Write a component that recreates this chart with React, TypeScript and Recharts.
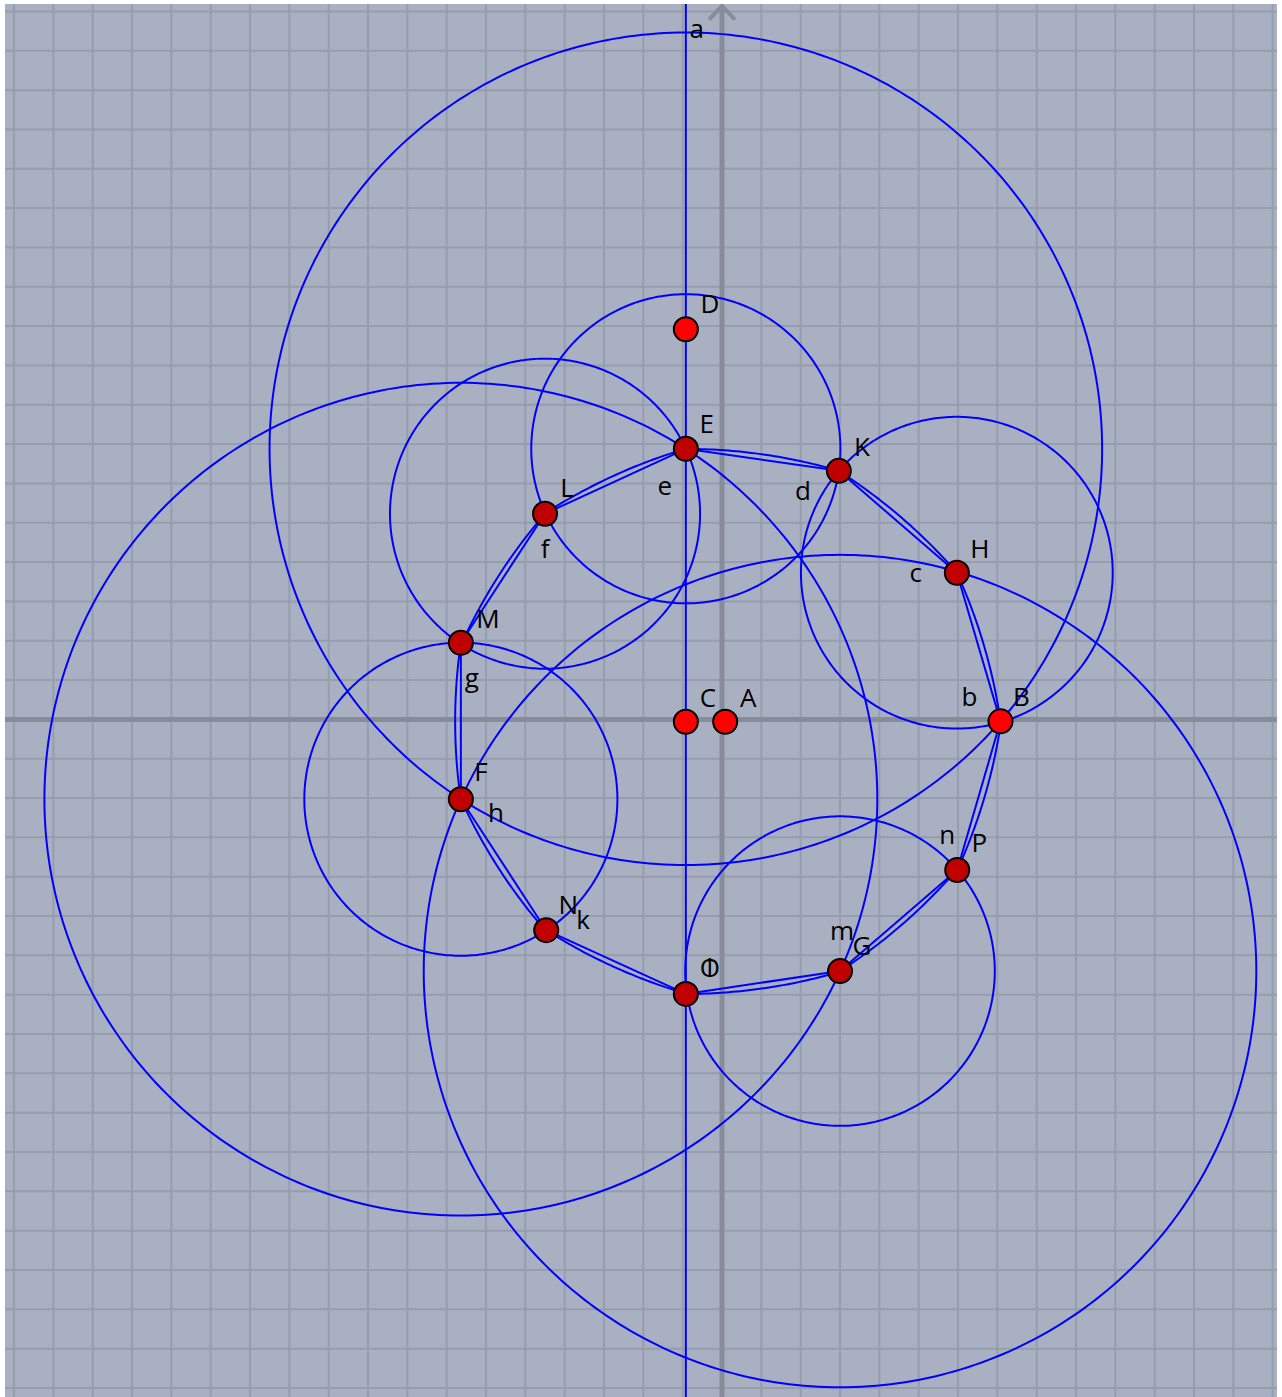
import React from 'react'
import { ScatterChart, Scatter, XAxis, YAxis, CartesianGrid } from 'recharts'

// Vertices of the polygon, in order round the centre (grid units)
const VERTEX_NAMES = ['B', 'H', 'K', 'E', 'L', 'M', 'F', 'N', 'O', 'G', 'P']
const VERTEX_X = [7.08, 5.97, 2.97, -0.92, -4.5, -6.64, -6.64, -4.47, -0.92, 3.0, 5.98]
const VERTEX_Y = [-0.05, 3.73, 6.32, 6.88, 5.23, 1.95, -2.03, -5.36, -6.98, -6.4, -3.83]

// Free points (bright red)
const FREE_NAMES = ['D', 'C', 'A']
const FREE_X = [-0.92, -0.92, 0.08]
const FREE_Y = [9.92, -0.06, -0.06]

// Circles: [centre, point on circle]
const CIRCLES: [string, string][] = [
  ['E', 'B'], ['F', 'E'], ['G', 'F'],
  ['E', 'K'], ['L', 'E'], ['H', 'K'], ['F', 'M'], ['G', 'P'],
]

// Vertical line "a" through C and D
const LINE_A_X = -0.92

// Labels: [text, anchor point]
const POINT_LABELS: [string, string][] = [
  ['D', 'D'], ['E', 'E'], ['K', 'K'], ['H', 'H'], ['B', 'B'], ['L', 'L'], ['M', 'M'],
  ['F', 'F'], ['N', 'N'], ['O', 'O'], ['G', 'G'], ['P', 'P'], ['C', 'C'], ['A', 'A'],
]
const SEGMENT_LABELS: [string, string][] = [
  ['b', 'B'], ['c', 'H'], ['d', 'K'], ['e', 'E'], ['f', 'L'], ['g', 'M'],
  ['h', 'F'], ['k', 'N'], ['l', 'O'], ['m', 'G'], ['n', 'P'],
]

// pixel offsets of labels from their anchor
const LABEL_OFFSET: Record<string, [number, number]> = {
  D: [24, -26], E: [21, -26], K: [23, -25], H: [23, -25], B: [21, -25],
  L: [22, -27], M: [27, -25], F: [20, -28], N: [22, -26], O: [24, -27],
  G: [22, -26], P: [22, -28], C: [22, -25], A: [23, -25],
  b: [-31, -25], c: [-41, -1], d: [-36, 19], e: [-21, 36], f: [0, 34],
  g: [11, 34], h: [35, 13], k: [37, -11], l: [24, -27], m: [2, -41], n: [-10, -36],
  a: [11, 24],
}

const X_MIN = -18.23
const X_MAX = 14.11
const Y_MIN = -17.23
const Y_MAX = 18.19

const BG = '#a9b0c1'
const GRID = '#969dad'
const AXIS = '#878c99'
const BLUE = '#0000ff'

type P = { x: number; y: number }

const pos: Record<string, P> = {}
VERTEX_NAMES.forEach((n, i) => (pos[n] = { x: VERTEX_X[i], y: VERTEX_Y[i] }))
FREE_NAMES.forEach((n, i) => (pos[n] = { x: FREE_X[i], y: FREE_Y[i] }))

function circlePoints(c: P, p: P, n = 360): P[] {
  const r = Math.hypot(p.x - c.x, p.y - c.y)
  const out: P[] = []
  for (let k = 0; k <= n; k++) {
    const t = (2 * Math.PI * k) / n
    out.push({ x: c.x + r * Math.cos(t), y: c.y + r * Math.sin(t) })
  }
  return out
}

function arcPoints(c: P, p0: P, p1: P, n = 40): P[] {
  const r = Math.hypot(p0.x - c.x, p0.y - c.y)
  const a0 = Math.atan2(p0.y - c.y, p0.x - c.x)
  let d = Math.atan2(p1.y - c.y, p1.x - c.x) - a0
  while (d > Math.PI) d -= 2 * Math.PI
  while (d < -Math.PI) d += 2 * Math.PI
  const out: P[] = []
  for (let k = 0; k <= n; k++) {
    const t = a0 + (d * k) / n
    out.push({ x: c.x + r * Math.cos(t), y: c.y + r * Math.sin(t) })
  }
  return out
}

const blank = () => <g />

function PointShape(props: any) {
  const { cx, cy, payload } = props
  return (
    <circle
      cx={cx}
      cy={cy}
      r={12}
      fill={payload.bright ? '#ff0000' : '#c00000'}
      stroke="#000"
      strokeWidth={2}
    />
  )
}

function LabelShape(props: any) {
  const { cx, cy, payload } = props
  const [dx, dy] = LABEL_OFFSET[payload.text] || [0, 0]
  return (
    <text
      x={cx + dx}
      y={cy + dy}
      textAnchor="middle"
      dominantBaseline="central"
      fontSize={26}
      fontFamily="'Open Sans', sans-serif"
      fill="#000"
    >
      {payload.text}
    </text>
  )
}

export default function App() {
  const gridX: number[] = []
  for (let v = Math.ceil(X_MIN); v <= Math.floor(X_MAX); v++) if (v !== 0) gridX.push(v)
  const gridY: number[] = []
  for (let v = Math.ceil(Y_MIN); v <= Math.floor(Y_MAX); v++) if (v !== 0) gridY.push(v)

  const n = VERTEX_NAMES.length
  const edges = VERTEX_NAMES.map((name, i) => [name, VERTEX_NAMES[(i + 1) % n], VERTEX_NAMES[(i + 6) % n]])

  const points = [
    ...VERTEX_NAMES.map((nm) => ({ ...pos[nm], bright: nm === 'B' })),
    ...FREE_NAMES.map((nm) => ({ ...pos[nm], bright: true })),
  ]

  const labels = [
    ...POINT_LABELS.map(([t, a]) => ({ ...pos[a], text: t })),
    ...SEGMENT_LABELS.map(([t, a]) => ({ ...pos[a], text: t })),
    { x: LINE_A_X, y: Y_MAX, text: 'a' },
  ]

  return (
    <div style={{ position: 'absolute', left: 0, top: 0, width: 1282, height: 1397, background: '#fff' }}>
      <ScatterChart width={1282} height={1397} margin={{ top: 4, right: 5, bottom: 0, left: 5 }}>
        <CartesianGrid horizontal={false} vertical={false} fill={BG} fillOpacity={1} />
        <XAxis type="number" dataKey="x" domain={[X_MIN, X_MAX]} allowDataOverflow hide />
        <YAxis type="number" dataKey="y" domain={[Y_MIN, Y_MAX]} allowDataOverflow hide />

        {gridX.map((v) => (
          <Scatter key={`gx${v}`} data={[{ x: v, y: Y_MIN }, { x: v, y: Y_MAX }]} line={{ stroke: GRID, strokeWidth: 2 }} lineType="joint" shape={blank} isAnimationActive={false} />
        ))}
        {gridY.map((v) => (
          <Scatter key={`gy${v}`} data={[{ x: X_MIN, y: v }, { x: X_MAX, y: v }]} line={{ stroke: GRID, strokeWidth: 2 }} lineType="joint" shape={blank} isAnimationActive={false} />
        ))}

        {/* axes */}
        <Scatter data={[{ x: X_MIN, y: 0 }, { x: X_MAX, y: 0 }]} line={{ stroke: AXIS, strokeWidth: 5 }} lineType="joint" shape={blank} isAnimationActive={false} />
        <Scatter data={[{ x: 0, y: Y_MIN }, { x: 0, y: Y_MAX - 0.05 }]} line={{ stroke: AXIS, strokeWidth: 5 }} lineType="joint" shape={blank} isAnimationActive={false} />
        <Scatter data={[{ x: -0.33, y: Y_MAX - 0.4 }, { x: 0, y: Y_MAX - 0.05 }, { x: 0.33, y: Y_MAX - 0.4 }]} line={{ stroke: AXIS, strokeWidth: 4 }} lineType="joint" shape={blank} isAnimationActive={false} />

        {/* line a */}
        <Scatter data={[{ x: LINE_A_X, y: Y_MIN }, { x: LINE_A_X, y: Y_MAX }]} line={{ stroke: BLUE, strokeWidth: 2 }} lineType="joint" shape={blank} isAnimationActive={false} />

        {CIRCLES.map(([c, p]) => (
          <Scatter key={`c${c}${p}`} data={circlePoints(pos[c], pos[p])} line={{ stroke: BLUE, strokeWidth: 2, fill: 'none' }} lineType="joint" shape={blank} isAnimationActive={false} />
        ))}

        {edges.map(([a, b, c]) => (
          <Scatter key={`arc${a}${b}`} data={arcPoints(pos[c], pos[a], pos[b])} line={{ stroke: BLUE, strokeWidth: 2, fill: 'none' }} lineType="joint" shape={blank} isAnimationActive={false} />
        ))}
        {edges.map(([a, b]) => (
          <Scatter key={`seg${a}${b}`} data={[pos[a], pos[b]]} line={{ stroke: BLUE, strokeWidth: 2 }} lineType="joint" shape={blank} isAnimationActive={false} />
        ))}

        <Scatter data={points} shape={PointShape} isAnimationActive={false} />
        <Scatter data={labels} shape={LabelShape} isAnimationActive={false} />
      </ScatterChart>
    </div>
  )
}
